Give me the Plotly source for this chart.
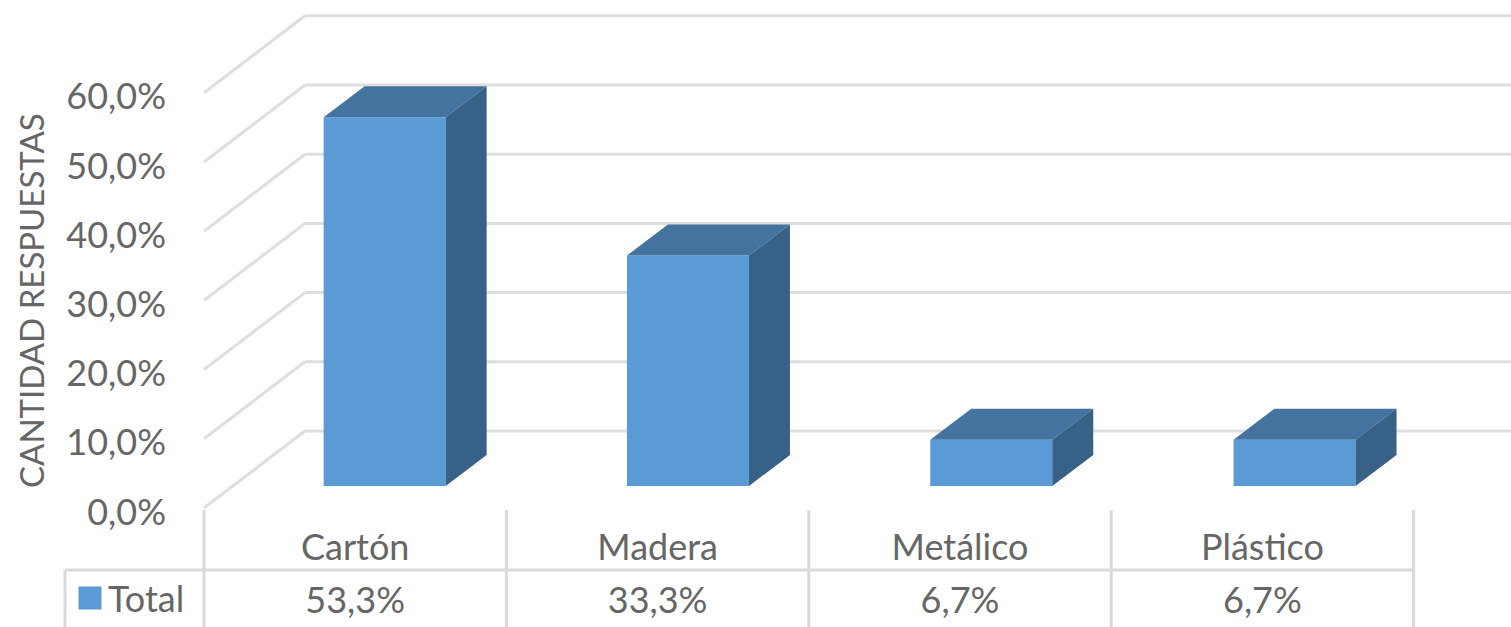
import plotly.graph_objects as go

categories = ["Cartón", "Madera", "Metálico", "Plástico"]
values = [53.3, 33.3, 6.7, 6.7]
y_ticks = [0, 10, 20, 30, 40, 50, 60]
y_tick_labels = ["0,0%", "10,0%", "20,0%", "30,0%", "40,0%", "50,0%", "60,0%"]
series_name = "Total"
y_title = "CANTIDAD RESPUESTAS"

W, H = 1511, 627
ORIGIN_X, ORIGIN_Y = 204, 508   # where x=0, y=0 sit on the canvas
PX_X = 303.3      # pixels per category slot
PX_Y = 6.92       # pixels per percentage point
TABLE_SCALE = 302.4 / PX_X   # the table columns are slightly narrower than the bar slots
X_RANGE = [-ORIGIN_X / PX_X, (W - ORIGIN_X) / PX_X]
Y_RANGE = [-(H - ORIGIN_Y) / PX_Y, ORIGIN_Y / PX_Y]

def xpx(p):       # horizontal offset in pixels -> x units
    return p / PX_X
def ypx(p):       # vertical offset in pixels -> y units
    return p / PX_Y

WALL_DX, WALL_DY = xpx(101), ypx(77)
BAR_W = xpx(122)
FRONT_DX, FRONT_DY = xpx(29), ypx(22)
DEPTH_DX, DEPTH_DY = xpx(41), ypx(31)

FRONT, TOP, SIDE = "#5B9BD5", "#44739F", "#376186"
GRID = "#DEDEDE"
TABLE = "#D9D9D9"
TEXT = "#666666"
FONT = "Lato"
FS = 36

shapes = []
for t in y_ticks:
    shapes.append(dict(type="line", layer="below", xref="x", yref="y",
                       x0=0, y0=t, x1=WALL_DX, y1=t + WALL_DY,
                       line=dict(color=GRID, width=3)))
    shapes.append(dict(type="line", layer="below", xref="x", yref="y",
                       x0=WALL_DX, y0=t + WALL_DY, x1=X_RANGE[1], y1=t + WALL_DY,
                       line=dict(color=GRID, width=3)))

fig = go.Figure()

centers = [i + 0.5 + FRONT_DX for i in range(len(values))]
fig.add_trace(go.Bar(x=centers, y=values, base=[FRONT_DY] * len(values), width=BAR_W,
                     marker=dict(color=FRONT, line=dict(width=0)),
                     name=series_name, showlegend=False, hoverinfo="skip"))

for c, v in zip(centers, values):
    x0, x1 = c - BAR_W / 2, c + BAR_W / 2
    y0, y1 = FRONT_DY, FRONT_DY + v
    fig.add_trace(go.Scatter(
        x=[x0, x1, x1 + DEPTH_DX, x0 + DEPTH_DX, x0],
        y=[y1, y1, y1 + DEPTH_DY, y1 + DEPTH_DY, y1],
        fill="toself", fillcolor=TOP, mode="lines", line=dict(width=0),
        showlegend=False, hoverinfo="skip"))
    fig.add_trace(go.Scatter(
        x=[x1, x1 + DEPTH_DX, x1 + DEPTH_DX, x1, x1],
        y=[y0, y0 + DEPTH_DY, y1 + DEPTH_DY, y1, y0],
        fill="toself", fillcolor=SIDE, mode="lines", line=dict(width=0),
        showlegend=False, hoverinfo="skip"))

# data table frame
row_y = ypx(-62)
bottom_y = Y_RANGE[0]
left_x = xpx(65 - ORIGIN_X)
n = len(values)
tx = [left_x, n * TABLE_SCALE, None, left_x, left_x, None]
ty = [row_y, row_y, None, row_y, bottom_y, None]
for i in range(n + 1):
    tx += [i * TABLE_SCALE, i * TABLE_SCALE, None]
    ty += [ypx(-2), bottom_y, None]
fig.add_trace(go.Scatter(x=tx, y=ty, mode="lines", line=dict(color=TABLE, width=3),
                         showlegend=False, hoverinfo="skip"))

col_centers = [(i + 0.5) * TABLE_SCALE for i in range(n)]

# data table values
fig.add_trace(go.Scatter(
    x=col_centers, y=[ypx(-96)] * n,
    mode="text", text=[f"{v:.1f}".replace(".", ",") + "%" for v in values],
    textposition="middle center", textfont=dict(family=FONT, size=FS, color=TEXT),
    showlegend=False, hoverinfo="skip"))

# legend key inside the table
fig.add_trace(go.Scatter(
    x=[xpx(90 - ORIGIN_X)], y=[ypx(-90)], mode="markers",
    marker=dict(symbol="square", size=23, color=FRONT),
    showlegend=False, hoverinfo="skip"))
fig.add_trace(go.Scatter(
    x=[xpx(108 - ORIGIN_X)], y=[ypx(-95)], mode="text", text=[series_name],
    textposition="middle right", textfont=dict(family=FONT, size=FS, color=TEXT),
    showlegend=False, hoverinfo="skip"))

fig.update_layout(
    width=W, height=H, autosize=False,
    margin=dict(l=0, r=0, t=0, b=0, pad=0),
    paper_bgcolor="white", plot_bgcolor="white",
    showlegend=False, shapes=shapes,
    font=dict(family=FONT, size=FS, color=TEXT),
    xaxis=dict(range=X_RANGE, tickmode="array",
               tickvals=col_centers, ticktext=categories,
               anchor="free", position=(H - ORIGIN_Y) / H,
               showgrid=False, zeroline=False, showline=False, ticks="",
               ticklabelstandoff=15, tickfont=dict(family=FONT, size=FS, color=TEXT)),
    yaxis=dict(range=Y_RANGE, tickmode="array", tickvals=y_ticks, ticktext=y_tick_labels,
               anchor="free", position=ORIGIN_X / W,
               showgrid=False, zeroline=False, showline=False, ticks="",
               ticklabelstandoff=38, ticklabelshift=4,
               tickfont=dict(family=FONT, size=FS, color=TEXT)),
    annotations=[dict(text=y_title, xref="x", yref="y",
                      x=xpx(31 - ORIGIN_X), y=ypx(ORIGIN_Y - 301), textangle=-90,
                      showarrow=False, xanchor="center", yanchor="middle",
                      font=dict(family=FONT, size=33, color=TEXT))],
)

fig.write_html("out.html", config=dict(displayModeBar=False),
               post_script="document.body.style.margin='0';")
